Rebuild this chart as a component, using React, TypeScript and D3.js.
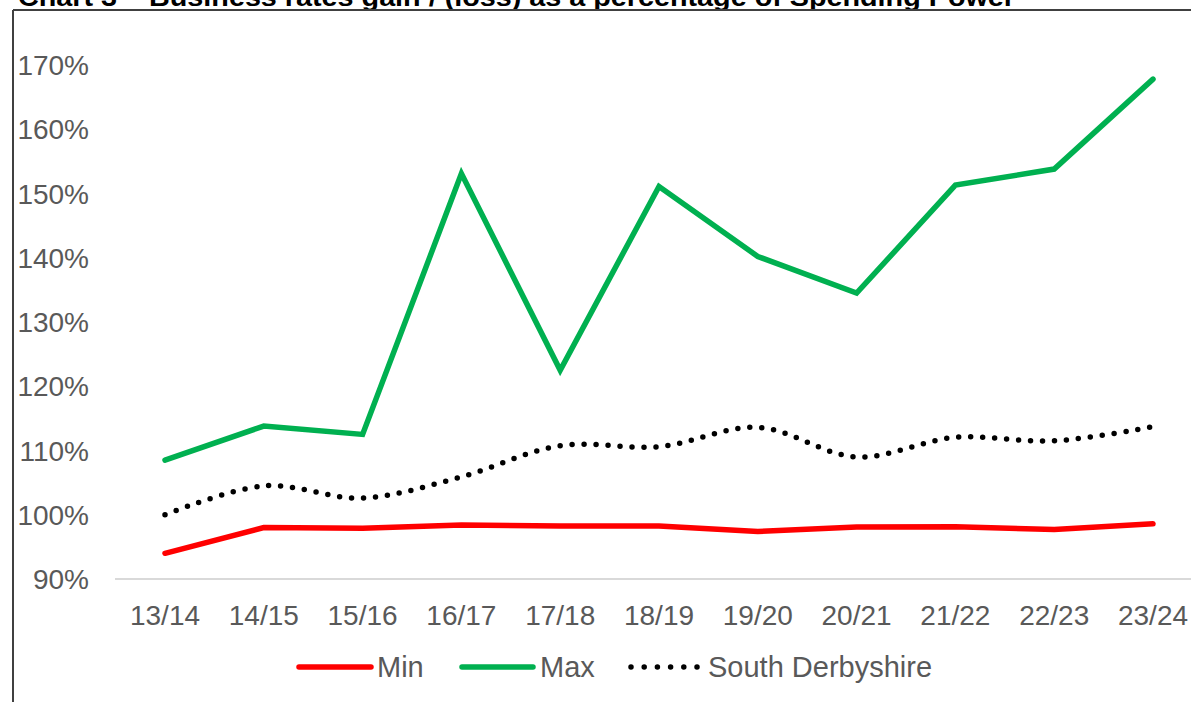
import React from "react";
import * as d3 from "d3";

const categories = ["13/14", "14/15", "15/16", "16/17", "17/18", "18/19", "19/20", "20/21", "21/22", "22/23", "23/24"];
const minValues = [94.0, 98.0, 97.9, 98.4, 98.25, 98.25, 97.4, 98.1, 98.15, 97.7, 98.6];
const maxValues = [108.5, 113.8, 112.5, 153.1, 122.5, 151.1, 140.2, 134.5, 151.3, 153.8, 167.8];
const southDerbyshire = [100.0, 104.5, 102.6, 105.9, 110.75, 110.6, 113.6, 109.0, 112.05, 111.5, 113.7];
const yTicks = [90, 100, 110, 120, 130, 140, 150, 160, 170];
const title = "Chart 3 – Business rates gain / (loss) as a percentage of Spending Power";

const W = 1191;
const H = 702;
const FONT = "'Liberation Sans', Arial, sans-serif";

export default function App() {
  const x = d3.scalePoint<string>().domain(categories).range([115.6, 1202.4]).padding(0.5);
  const y = d3.scaleLinear().domain([90, 170]).range([579, 65]);

  const straight = d3
    .line<number>()
    .x((_, i) => x(categories[i]) as number)
    .y((d) => y(d));
  const smooth = d3
    .line<number>()
    .x((_, i) => x(categories[i]) as number)
    .y((d) => y(d))
    .curve(d3.curveCatmullRom.alpha(0.5));

  const legendY = 667;

  return (
    <svg
      width={W}
      height={H}
      viewBox={`0 0 ${W} ${H}`}
      style={{ position: "fixed", left: 0, top: 0, background: "#fff" }}
    >
      <rect x={0} y={0} width={W} height={H} fill="#fff" />
      {/* Title (cropped at top) */}
      <text
        x={18}
        y={6}
        fontFamily={FONT}
        fontWeight="bold"
        fontSize={25}
        fill="#000"
        textLength={997}
        lengthAdjust="spacingAndGlyphs"
      >
        {title}
      </text>
      {/* Frame */}
      <line x1={13} y1={10} x2={W} y2={10} stroke="#404040" strokeWidth={2} />
      <line x1={13} y1={10} x2={13} y2={H} stroke="#404040" strokeWidth={2} />

      {/* Axis line */}
      <line x1={115} y1={y(90)} x2={1202} y2={y(90)} stroke="#d9d9d9" strokeWidth={2} />

      {/* Y tick labels */}
      {yTicks.map((t) => (
        <text
          key={t}
          x={89}
          y={y(t)}
          dy="0.36em"
          textAnchor="end"
          fontFamily={FONT}
          fontSize={28}
          fill="#595959"
        >
          {`${t}%`}
        </text>
      ))}

      {/* X tick labels */}
      {categories.map((c) => (
        <text
          key={c}
          x={x(c) as number}
          y={625}
          textAnchor="middle"
          fontFamily={FONT}
          fontSize={28}
          fill="#595959"
        >
          {c}
        </text>
      ))}

      {/* Series */}
      <path d={straight(minValues) || ""} fill="none" stroke="#ff0000" strokeWidth={5.5} strokeLinecap="round" strokeLinejoin="miter" />
      <path d={straight(maxValues) || ""} fill="none" stroke="#00b050" strokeWidth={5.5} strokeLinecap="round" strokeLinejoin="miter" />
      <path
        d={smooth(southDerbyshire) || ""}
        fill="none"
        stroke="#000"
        strokeWidth={5.5}
        strokeLinecap="round"
        strokeDasharray="0 12"
      />

      {/* Legend */}
      <line x1={299} y1={legendY} x2={371} y2={legendY} stroke="#ff0000" strokeWidth={5.5} strokeLinecap="round" />
      <text x={377} y={677} fontFamily={FONT} fontSize={29} fill="#595959">Min</text>
      <line x1={462} y1={legendY} x2={533} y2={legendY} stroke="#00b050" strokeWidth={5.5} strokeLinecap="round" />
      <text x={540} y={677} fontFamily={FONT} fontSize={29} fill="#595959">Max</text>
      <line
        x1={631}
        y1={legendY}
        x2={697}
        y2={legendY}
        stroke="#000"
        strokeWidth={5.5}
        strokeLinecap="round"
        strokeDasharray="0 13.2"
      />
      <text x={708} y={677} fontFamily={FONT} fontSize={29} fill="#595959">South Derbyshire</text>
    </svg>
  );
}
